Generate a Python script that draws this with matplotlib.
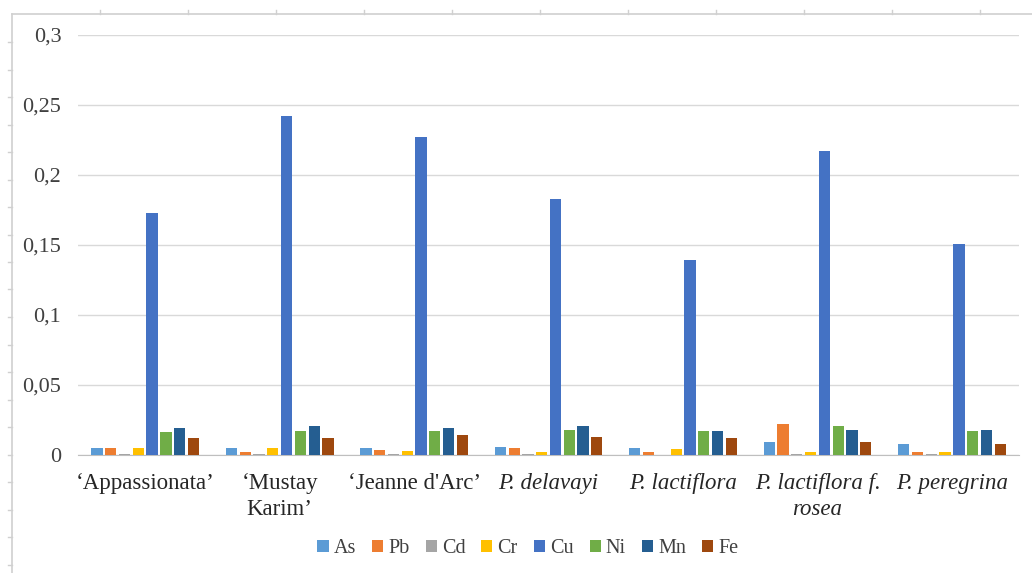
import numpy as np
import matplotlib
matplotlib.use("Agg")
import matplotlib.pyplot as plt
from matplotlib.lines import Line2D

plt.rcParams['font.family'] = ['Liberation Serif', 'DejaVu Serif']

categories = ["\u2018Appassionata\u2019", "\u2018Mustay\nKarim\u2019", "\u2018Jeanne d'Arc\u2019",
              "P. delavayi", "P. lactiflora", "P. lactiflora f.\nrosea", "P. peregrina"]
italic = [False, False, False, True, True, True, True]

elements = ["As", "Pb", "Cd", "Cr", "Cu", "Ni", "Mn", "Fe"]
colors = ["#5B9BD5", "#ED7D31", "#A5A5A5", "#FFC000", "#4472C4", "#70AD47", "#255E91", "#9E480E"]

As = [0.005, 0.005, 0.005, 0.006, 0.005, 0.0093, 0.008]
Pb = [0.005, 0.0023, 0.0033, 0.005, 0.002, 0.022, 0.002]
Cd = [0.001, 0.001, 0.001, 0.001, 0.0, 0.001, 0.001]
Cr = [0.005, 0.005, 0.003, 0.002, 0.004, 0.002, 0.002]
Cu = [0.173, 0.242, 0.227, 0.183, 0.139, 0.217, 0.151]
Ni = [0.0166, 0.0169, 0.017, 0.0178, 0.017, 0.021, 0.017]
Mn = [0.0195, 0.0209, 0.0195, 0.021, 0.017, 0.018, 0.018]
Fe = [0.012, 0.012, 0.014, 0.013, 0.012, 0.009, 0.008]
series = [As, Pb, Cd, Cr, Cu, Ni, Mn, Fe]

fig = plt.figure(figsize=(10.32, 5.73), dpi=100)
ax = fig.add_axes([0.0756, 0.206, 0.912, 0.733])

x = np.arange(len(categories))
slot = 0.82 / len(series)
for i, (vals, name, c) in enumerate(zip(series, elements, colors)):
    ax.bar(x - 0.41 + slot * (i + 0.5), vals, width=slot * 0.82, color=c, label=name, zorder=3)

ax.set_xlim(-0.5, len(categories) - 0.5)
ax.set_ylim(0, 0.3)
yt = np.arange(0, 0.301, 0.05)
ax.set_yticks(yt)
ax.set_yticklabels(["0", "0,05", "0,1", "0,15", "0,2", "0,25", "0,3"], fontsize=16, color="#404040")
ax.grid(axis='y', color="#D9D9D9", linewidth=1, zorder=0)
for s in ["top", "right", "left"]:
    ax.spines[s].set_visible(False)
ax.spines["bottom"].set_color("#BFBFBF")
ax.tick_params(axis='y', length=0, pad=12)
ax.tick_params(axis='x', length=0, pad=13)
ax.set_xticks(x)
ax.set_xticklabels(categories, fontsize=16.5, color="#262626", linespacing=1.3)
for lab, it in zip(ax.get_xticklabels(), italic):
    if it:
        lab.set_style('italic')

ax.legend(loc='center', bbox_to_anchor=(0.478, -0.222), ncol=8, frameon=False,
          fontsize=14.5, handlelength=0.55, handleheight=0.55, handletextpad=0.25,
          columnspacing=0.8, labelcolor="#404040")

# outer frame with ruler ticks
fc = "#D0D0D0"
fig.add_artist(Line2D([12 / 1032, 12 / 1032], [0, 1 - 14 / 573], color=fc, lw=1.2, transform=fig.transFigure))
fig.add_artist(Line2D([12 / 1032, 1], [1 - 14 / 573, 1 - 14 / 573], color=fc, lw=1.2, transform=fig.transFigure))
for py in np.arange(42, 573, 27.5):
    fig.add_artist(Line2D([8 / 1032, 12 / 1032], [1 - py / 573, 1 - py / 573], color=fc, lw=1, transform=fig.transFigure))
for px in np.arange(100, 1032, 88):
    fig.add_artist(Line2D([px / 1032, px / 1032], [1 - 14 / 573, 1 - 10 / 573], color=fc, lw=1, transform=fig.transFigure))

fig.savefig("out.png", dpi=100, facecolor="white")
